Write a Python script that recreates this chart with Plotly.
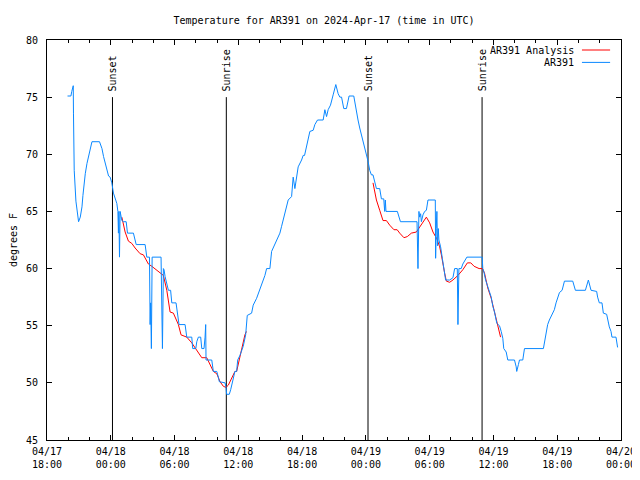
import pandas as pd
import plotly.graph_objects as go

START = pd.Timestamp("2024-04-17 18:00")
END = pd.Timestamp("2024-04-20 00:00")

# hours since 2024-04-17 18:00 UTC, temperature (deg F)
obs_hours = [1.93, 2.25, 2.33, 2.44, 2.47, 2.49, 2.56, 2.72, 2.97, 3.13, 3.29, 3.38, 3.50, 3.60, 3.76, 3.91,
             4.07, 4.23, 4.94, 5.17, 5.32, 5.48, 5.63, 5.79, 5.94, 6.10, 6.25, 6.41, 6.57, 6.67, 6.72, 6.76,
             6.82, 6.88, 7.04, 7.19, 7.45, 7.57, 8.13, 8.39, 9.23, 9.39, 9.64, 9.70, 9.75, 9.82, 9.89, 10.73,
             10.80, 10.86, 10.95, 11.01, 11.11, 11.27, 11.42, 11.63, 11.74, 12.14, 12.27, 12.42, 12.99, 13.15,
             13.62, 13.71, 14.00, 14.09, 14.24, 14.46, 14.56, 14.77, 14.87, 14.93, 14.96, 15.50, 15.65, 15.97,
             16.12, 16.21, 16.75, 16.84, 16.90, 17.15, 17.28, 17.47, 17.59, 17.68, 17.84, 17.94, 18.15, 18.46,
             18.69, 18.84, 19.25, 19.40, 19.72, 19.97, 20.34, 20.50, 20.66, 20.97, 21.13, 21.44, 21.60, 21.91,
             22.07, 22.22, 22.38, 22.54, 22.69, 23.01, 23.16, 23.32, 23.48, 23.63, 23.95, 24.10, 24.23, 24.42,
             24.57, 24.73, 25.04, 25.20, 25.45, 25.98, 26.14, 26.30, 26.45, 26.67, 26.92, 27.17, 27.39, 27.55,
             27.71, 27.92, 28.17, 28.42, 28.86, 29.05, 29.26, 29.42, 29.58, 29.73, 29.89, 30.05, 30.20, 30.36,
             30.52, 30.67, 30.83, 30.99, 31.30, 31.46, 31.68, 31.77, 31.83, 31.89, 32.96, 33.11, 33.25, 34.81,
             34.87, 34.90, 34.99, 35.06, 35.15, 35.22, 35.37, 35.53, 35.69, 35.84, 36.53, 36.56, 36.62, 36.68,
             36.74, 36.81, 36.87, 37.03, 37.19, 37.31, 37.50, 37.88, 38.19, 38.35, 38.60, 38.66, 38.72, 38.75,
             38.97, 39.12, 39.50, 40.94, 41.00, 41.08, 41.26, 41.57, 41.79, 41.94, 42.10, 42.32, 42.57, 42.73,
             42.88, 42.97, 43.20, 43.35, 43.98, 44.14, 44.19, 44.35, 44.45, 44.76, 44.92, 46.70, 46.80, 46.95,
             47.10, 47.26, 47.42, 47.57, 47.73, 47.89, 48.04, 48.21, 48.46, 48.68, 49.46, 49.71, 50.65, 50.86,
             50.93, 51.18, 51.71, 51.80, 51.96, 52.21, 52.34, 52.65, 52.74, 52.90, 53.06, 53.15, 53.53, 53.68]
obs_temp = [75.1, 75.1, 75.5, 76.0, 76.0, 73.6, 68.6, 65.9, 64.1, 64.5, 65.4, 66.4, 67.5, 68.3, 69.2, 69.8,
            70.5, 71.1, 71.1, 70.5, 69.8, 69.2, 68.6, 68.1, 68.0, 67.5, 66.6, 66.1, 65.7, 65.0, 63.1, 65.0,
            61.0, 65.0, 64.2, 64.1, 64.1, 63.1, 63.1, 62.1, 62.1, 61.0, 61.0, 55.1, 57.0, 53.0, 61.0, 61.0,
            57.1, 53.0, 60.0, 59.9, 59.3, 58.7, 58.1, 58.1, 57.0, 57.0, 56.1, 55.1, 55.1, 54.0,
            54.0, 53.0, 53.0, 53.6, 54.0, 54.0, 53.0, 53.0, 54.0, 55.1, 52.0, 52.0, 51.0, 51.0,
            50.5, 50.1, 50.0, 49.6, 49.0, 49.0, 49.4, 50.1, 50.8, 51.0, 51.0, 52.0, 52.4, 53.2,
            54.2, 55.9, 56.1, 56.8, 57.4, 58.0, 59.0, 59.4, 60.0, 60.0, 61.5, 62.1, 62.5, 63.1,
            63.7, 64.2, 64.8, 65.4, 66.0, 66.3, 68.0, 67.0, 68.0, 68.9, 69.5, 69.9, 69.9, 70.7,
            71.2, 72.0, 72.1, 72.6, 73.0, 73.0, 73.9, 73.3, 73.9, 74.3, 75.2, 76.1, 75.3, 75.0,
            75.0, 74.0, 74.0, 75.1, 75.1, 73.9, 73.0, 72.3, 71.7, 71.1, 70.7, 70.1, 69.4, 68.6,
            68.2, 68.2, 67.6, 67.0, 67.0, 66.1, 66.1, 65.0, 66.0, 65.0, 65.0, 64.5, 64.1, 64.1,
            62.2, 60.0, 65.0, 64.5, 64.8, 64.1, 64.7, 65.0, 65.1, 66.0, 66.0, 60.9, 63.5, 65.0,
            62.0, 63.5, 62.5, 61.9, 60.9, 60.0, 59.0, 59.0, 59.2, 60.0, 60.0, 55.1, 58.0, 60.0,
            60.0, 60.4, 61.0, 61.0, 60.0, 59.8, 59.0, 58.0, 57.5, 56.7, 56.2, 55.2, 55.0, 54.5,
            53.9, 53.0, 52.7, 52.0, 52.0, 51.4, 51.0, 51.6, 52.0, 52.0, 53.0, 53.0, 53.5, 54.2,
            55.1, 55.5, 55.8, 56.0, 56.4, 57.0, 57.4, 57.9, 58.1, 58.9, 58.9, 58.1, 58.1, 58.9,
            59.0, 58.1, 58.0, 57.5, 57.0, 57.0, 56.1, 56.0, 55.5, 54.9, 54.5, 54.0, 54.0, 53.1]

# analysis series (None = gap between the two analysis periods)
ana_hours = [7.04, 7.35, 7.66, 7.98, 8.29, 8.76, 9.07, 9.54, 9.86, 10.48, 10.95, 11.27, 11.42, 11.58, 11.89,
             12.36, 12.61, 13.15, 13.62, 14.09, 14.56, 15.03, 15.34, 15.65, 15.97, 16.28, 16.59, 16.84, 17.06,
             17.37, 17.68, 17.84, 18.09, 18.31, 18.62, 18.76, None,
             30.67, 30.99, 31.30, 31.61, 31.93, 32.24, 32.64, 32.94, 33.18, 33.58, 33.90, 34.28, 34.75, 35.22,
             35.69, 36.00, 36.31, 36.68, 36.94, 37.10, 37.25, 37.41, 37.57, 37.88, 38.19, 38.66, 39.12, 39.55,
             39.87, 40.18, 40.65, 40.96, 41.16, 41.47, 41.79, 42.10, 42.41, 42.67]
ana_temp = [64.5, 63.2, 62.4, 62.2, 61.8, 61.3, 61.2, 60.4, 60.2, 59.7, 59.4, 58.1, 57.1, 56.2, 56.1,
            55.1, 54.2, 54.0, 53.5, 52.9, 52.2, 52.2, 51.6, 51.0, 50.8, 50.1, 49.7, 49.6, 49.8,
            50.4, 51.0, 51.0, 52.0, 53.0, 54.2, 54.5, None,
            67.5, 66.0, 65.1, 64.2, 64.2, 63.8, 63.4, 63.4, 63.1, 62.7, 62.8, 63.1, 63.2, 63.8,
            64.5, 64.0, 63.2, 62.6, 61.9, 61.2, 60.3, 59.6, 58.9, 58.8, 59.0, 59.4, 59.9, 60.5,
            60.5, 60.2, 60.0, 60.0, 59.6, 58.3, 57.4, 56.1, 55.0, 54.0]

sun_labels = ["Sunset", "Sunrise", "Sunset", "Sunrise"]
sun_hours = [6.16, 16.87, 30.20, 40.93]
sun_line_top = 75

tick_hours = [0, 6, 12, 18, 24, 30, 36, 42, 48, 54]
tick_labels = ["04/17<br>18:00", "04/18<br>00:00", "04/18<br>06:00", "04/18<br>12:00", "04/18<br>18:00",
               "04/19<br>00:00", "04/19<br>06:00", "04/19<br>12:00", "04/19<br>18:00", "04/20<br>00:00"]

series_names = ["AR391 Analysis", "AR391"]
series_colors = ["#ff0000", "#0a88ff"]


def to_time(hours):
    return [None if h is None else START + pd.Timedelta(hours=h) for h in hours]


FONT = "DejaVu Sans Mono"
FS = 10
fig = go.Figure()

for lab, h in zip(sun_labels, sun_hours):
    t = START + pd.Timedelta(hours=h)
    fig.add_trace(go.Scatter(x=[t, t], y=[45, sun_line_top], mode="lines",
                             line=dict(color="black", width=1), hoverinfo="skip", showlegend=False))
    fig.add_annotation(x=t, y=sun_line_top, text=lab, textangle=-90, showarrow=False,
                       xanchor="center", yanchor="bottom", yshift=4,
                       font=dict(family=FONT, size=FS, color="black"))

fig.add_trace(go.Scatter(x=to_time(ana_hours), y=ana_temp, mode="lines", name=series_names[0],
                         line=dict(color=series_colors[0], width=1), connectgaps=False, showlegend=False))
fig.add_trace(go.Scatter(x=to_time(obs_hours), y=obs_temp, mode="lines", name=series_names[1],
                         line=dict(color=series_colors[1], width=1), showlegend=False))

# gnuplot-style key: right-aligned text with line sample to its right
key_y = [0.975, 0.944]
for name, col, ypos in zip(series_names, series_colors, key_y):
    fig.add_annotation(xref="paper", yref="paper", x=0.921, y=ypos, text=name, showarrow=False,
                       xanchor="right", yanchor="middle", font=dict(family=FONT, size=FS, color="black"))
    fig.add_shape(type="line", xref="paper", yref="paper", x0=0.932, x1=0.981, y0=ypos, y1=ypos,
                  line=dict(color=col, width=1))

# page body has an 8px margin, so the figure is sized to fit inside the 640x480 window
fig.update_layout(
    width=632, height=464,
    margin=dict(l=39, r=19, t=32, b=32, autoexpand=False),
    paper_bgcolor="white", plot_bgcolor="white",
    font=dict(family=FONT, size=FS, color="black"),
    title=dict(text="Temperature for AR391 on 2024-Apr-17 (time in UTC)", x=0.5, xanchor="center",
               y=1 - 12 / 464, yanchor="middle", font=dict(family=FONT, size=FS)),
    showlegend=False,
)
fig.update_xaxes(
    range=[START, END], tickvals=to_time(tick_hours), ticktext=tick_labels, automargin=False,
    ticks="inside", ticklen=5, tickcolor="black", showgrid=False, zeroline=False,
    showline=True, linecolor="black", linewidth=1, mirror="allticks",
    minor=dict(dtick=2 * 3600 * 1000, tick0=START, ticks="inside", ticklen=3, tickcolor="black", showgrid=False),
    tickfont=dict(family=FONT, size=FS), ticklabeloverflow="allow", ticklabelstandoff=2,
)
fig.update_yaxes(
    range=[45, 80], dtick=5, tick0=45, ticks="inside", ticklen=5, tickcolor="black", automargin=False,
    showgrid=False, zeroline=False, showline=True, linecolor="black", linewidth=1, mirror="allticks",
    title=dict(text="degrees F", font=dict(family=FONT, size=FS), standoff=8),
    tickfont=dict(family=FONT, size=FS), ticklabelstandoff=6,
)

fig.write_html("out.html")
